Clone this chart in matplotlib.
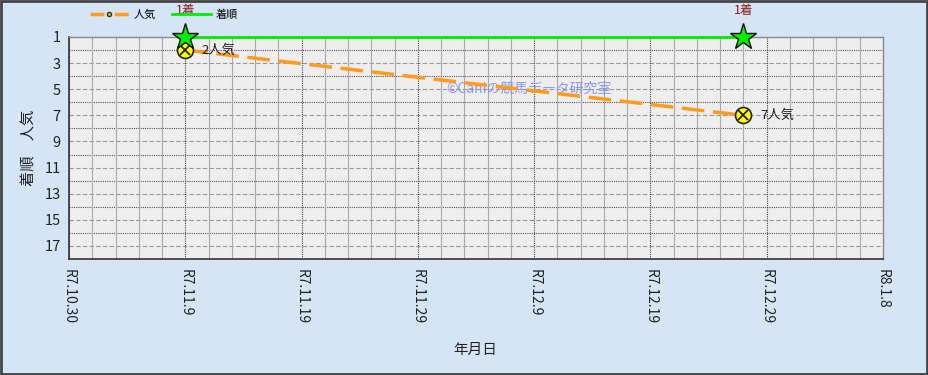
import matplotlib
matplotlib.use("Agg")
import matplotlib.pyplot as plt
import matplotlib.dates as mdates
from matplotlib.lines import Line2D
from matplotlib.ticker import FixedLocator
import datetime as dt

plt.rcParams['font.family'] = ['Noto Sans CJK JP', 'DejaVu Sans']

# ---- data ----
race_dates = [dt.date(2025, 11, 9), dt.date(2025, 12, 27)]
finish = [1, 1]
popularity = [2, 7]
pop_labels = ["2人気", "7人気"]
finish_labels = ["1着", "1着"]
tick_dates = [dt.date(2025, 10, 30), dt.date(2025, 11, 9), dt.date(2025, 11, 19),
              dt.date(2025, 11, 29), dt.date(2025, 12, 9), dt.date(2025, 12, 19),
              dt.date(2025, 12, 29), dt.date(2026, 1, 8)]
tick_labels = ["R7.10.30", "R7.11.9", "R7.11.19", "R7.11.29", "R7.12.9",
               "R7.12.19", "R7.12.29", "R8.1.8"]
y_ticks = [1, 3, 5, 7, 9, 11, 13, 15, 17]

fig = plt.figure(figsize=(9.29, 3.75), dpi=100)
fig.patch.set_facecolor('#d5e5f5')
ax = fig.add_axes([69/929, 1-259/375, (883-69)/929, (259-37)/375])
ax.set_facecolor('#eeeeee')

xd = [mdates.date2num(d) for d in race_dates]
xt = [mdates.date2num(d) for d in tick_dates]

ax.set_xlim(xt[0], xt[-1])
ax.set_ylim(18, 1)

# grid
ax.xaxis.set_major_locator(FixedLocator(xt))
ax.yaxis.set_major_locator(FixedLocator(y_ticks))
ax.set_xticklabels(tick_labels, rotation=-90, fontsize=10, color='#222222')
ax.set_yticklabels([str(v) for v in y_ticks], fontsize=10.5, color='#222222')
ax.tick_params(axis='both', which='both', length=0, pad=6)
ax.tick_params(axis='x', pad=7)

for v in range(2, 18, 2):
    ax.axhline(v, color='#555555', lw=0.8, ls=(0, (1, 1)), zorder=1)
for v in range(3, 18, 2):
    ax.axhline(v, color='#999999', lw=0.8, ls=(0, (4, 2)), zorder=1)
for i in range(0, 70, 2):
    x = xt[0] + i
    if i % 10 == 0:
        ax.axvline(x, color='#444444', lw=0.8, ls=(0, (1, 1)), zorder=1)
    else:
        ax.axvline(x, color='#aaaaaa', lw=0.8, zorder=1)

for s in ['left', 'bottom']:
    ax.spines[s].set_color('#333333')
    ax.spines[s].set_linewidth(1.2)
for s in ['top', 'right']:
    ax.spines[s].set_color('#888888')
    ax.spines[s].set_linewidth(1.0)

# popularity line
ax.plot(xd, popularity, color='#ff9a1a', lw=2.5, ls=(0, (6.5, 2.5)), zorder=3, clip_on=False)
ax.plot(xd, popularity, ls='none', marker='o', ms=11.5, mfc='#ffff00', mec='#222222',
        mew=1.2, zorder=4, clip_on=False)
ax.plot(xd, popularity, ls='none', marker='x', ms=7, mec='#222222', mew=1.3,
        zorder=5, clip_on=False)
for x, y, t in zip(xd, popularity, pop_labels):
    ax.annotate(t, (x, y), xytext=(12, 0), textcoords='offset points',
                va='center', ha='left', fontsize=9.5, color='#222222', zorder=6)

# finish line
ax.plot(xd, finish, color='#00ee00', lw=2.0, zorder=3, clip_on=False)
ax.plot(xd, finish, ls='none', marker='*', ms=20, mfc='#00ee00', mec='#111111',
        mew=1.0, zorder=6, clip_on=False)
for x, y, t in zip(xd, finish, finish_labels):
    ax.annotate(t, (x, y), xytext=(0, 19), textcoords='offset points',
                va='center', ha='center', fontsize=9, color='#8b1a1a',
                zorder=6, annotation_clip=False)

# watermark
ax.text(0.565, 0.765, "©Caniの競馬データ研究室", transform=ax.transAxes,
        ha='center', va='center', fontsize=10, color='#7f90f0', alpha=0.9, zorder=2)

ax.set_ylabel("着順　人気", fontsize=11, color='#222222', labelpad=5)
fig.text(475/929, 1-350/375, "年月日", ha='center', va='center', fontsize=10.5,
         color='#222222')

handles = [Line2D([0], [0], color='#ff9a1a', lw=2.5, ls=(0, (4, 3)), marker='o',
                  ms=3, mfc='#cccc00', mec='#333333'),
           Line2D([0], [0], color='#00ee00', lw=2.0)]
fig.legend(handles, ["人気", "着順"], loc='center left', bbox_to_anchor=(90/929, 1-15/375),
           ncol=2, frameon=False, fontsize=8, handlelength=3.5, columnspacing=1.5,
           handletextpad=0.4, borderaxespad=0, borderpad=0)

# outer border
fig.add_artist(plt.Rectangle((0.001, 0.002), 0.997, 0.996, transform=fig.transFigure,
                             fill=False, ec='#444444', lw=2))

fig.savefig("out.png", dpi=100, facecolor=fig.get_facecolor())
